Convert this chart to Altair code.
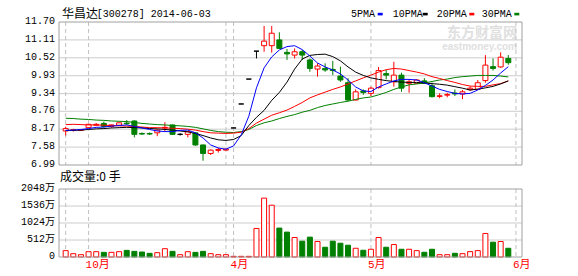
import altair as alt
import pandas as pd

# ---------------- data ----------------
open_ = [8.11, 8.13, 8.13, 8.22, 8.30, 8.36, 8.26, 8.30, 8.37, 8.44,
         8.03, 8.03, 8.05, 8.21, 8.31, 8.00, 8.00, 8.05, 7.65, 7.37,
         7.47, 7.48, 8.21, 9.00, 9.82, 10.74, 10.92, 10.92, 11.11, 10.70,
         10.61, 10.72, 10.45, 10.15, 10.17, 10.14, 9.92, 9.70, 9.13, 9.43,
         9.35, 9.54, 10.00, 9.73, 9.95, 9.68, 9.68, 9.76, 9.60, 9.25,
         9.29, 9.36, 9.33, 9.47, 9.48, 9.77, 10.23, 10.22, 10.50]
close = [8.19, 8.15, 8.15, 8.33, 8.33, 8.26, 8.31, 8.38, 8.35, 8.00,
         8.01, 8.01, 8.14, 8.23, 8.00, 8.00, 8.09, 7.65, 7.37, 7.48,
         7.50, 7.51, 8.21, 9.00, 9.82, 10.74, 11.07, 11.33, 10.83, 10.65,
         10.72, 10.61, 10.17, 10.25, 10.12, 10.10, 9.79, 9.13, 9.40, 9.38,
         9.52, 10.10, 9.95, 9.95, 9.52, 9.73, 9.79, 9.68, 9.24, 9.27,
         9.31, 9.33, 9.40, 9.52, 9.70, 10.28, 10.17, 10.54, 10.36]
high = [8.25, 8.18, 8.17, 8.34, 8.37, 8.42, 8.32, 8.39, 8.47, 8.46,
        8.06, 8.06, 8.16, 8.40, 8.32, 8.04, 8.09, 8.06, 7.66, 7.50,
        7.56, 7.53, 8.21, 9.00, 9.82, 10.74, 11.57, 11.57, 11.36, 10.81,
        10.83, 10.78, 10.50, 10.34, 10.34, 10.42, 10.23, 9.85, 9.48, 9.48,
        9.57, 10.22, 10.12, 10.39, 10.03, 9.81, 9.81, 9.85, 9.70, 9.35,
        9.37, 9.48, 9.46, 9.58, 9.79, 10.61, 10.50, 10.70, 10.61]
low = [7.96, 8.09, 8.11, 8.21, 8.27, 8.22, 8.22, 8.29, 8.31, 7.90,
       7.98, 7.98, 7.94, 8.09, 7.98, 7.96, 7.90, 7.62, 7.13, 7.32,
       7.40, 7.47, 8.21, 9.00, 9.82, 10.50, 10.72, 10.69, 10.83, 10.45,
       10.50, 10.45, 10.06, 9.90, 10.06, 9.95, 9.73, 9.10, 9.12, 9.30,
       9.26, 9.51, 9.81, 9.57, 9.40, 9.37, 9.66, 9.66, 9.22, 9.19,
       9.22, 9.26, 9.16, 9.43, 9.48, 9.70, 10.10, 10.19, 10.29]
volume = [192, 100, 70, 160, 160, 140, 140, 160, 200, 170,
          150, 110, 130, 250, 170, 70, 160, 140, 170, 100,
          70, 70, 20, 20, 20, 860, 1773, 1560, 871, 750,
          587, 476, 598, 466, 294, 476, 415, 355, 263, 203,
          233, 587, 294, 375, 233, 233, 192, 142, 233, 70,
          70, 112, 100, 162, 192, 709, 446, 466, 263]
ma5 = [8.13, 8.14, 8.16, 8.19, 8.23, 8.24, 8.27, 8.29, 8.31, 8.26,
       8.21, 8.16, 8.11, 8.09, 8.09, 8.13, 8.14, 8.05, 7.88, 7.65,
       7.55, 7.51, 7.62, 7.98, 8.60, 9.53, 10.19, 10.55, 10.78, 10.89,
       10.92, 10.79, 10.58, 10.35, 10.22, 10.12, 9.99, 9.79, 9.56, 9.43,
       9.41, 9.56, 9.66, 9.76, 9.81, 9.81, 9.79, 9.70, 9.59, 9.48,
       9.41, 9.35, 9.33, 9.35, 9.46, 9.61, 9.79, 10.02, 10.23]
ma10 = [8.13, 8.13, 8.14, 8.16, 8.18, 8.19, 8.21, 8.22, 8.23, 8.22,
        8.21, 8.19, 8.18, 8.16, 8.14, 8.11, 8.08, 8.03, 7.96, 7.88,
        7.82, 7.80, 7.83, 7.96, 8.29, 8.56, 8.79, 9.12, 9.38, 9.72,
        10.15, 10.48, 10.60, 10.63, 10.64, 10.56, 10.42, 10.22, 10.05, 9.94,
        9.86, 9.81, 9.77, 9.74, 9.72, 9.71, 9.71, 9.69, 9.67, 9.65,
        9.62, 9.57, 9.52, 9.46, 9.49, 9.53, 9.58, 9.66, 9.76]
ma20 = [8.32, 8.33, 8.32, 8.31, 8.31, 8.30, 8.29, 8.28, 8.27, 8.26,
        8.24, 8.22, 8.22, 8.21, 8.20, 8.19, 8.17, 8.14, 8.09, 8.05,
        8.04, 8.03, 8.04, 8.07, 8.19, 8.37, 8.50, 8.63, 8.71, 8.80,
        8.92, 9.05, 9.20, 9.30, 9.39, 9.48, 9.56, 9.66, 9.76, 9.86,
        9.95, 10.05, 10.13, 10.17, 10.15, 10.10, 10.05, 9.99, 9.90, 9.84,
        9.77, 9.71, 9.64, 9.59, 9.58, 9.58, 9.63, 9.67, 9.76]
ma30 = [8.53, 8.52, 8.50, 8.49, 8.47, 8.46, 8.44, 8.43, 8.42, 8.39,
        8.36, 8.34, 8.32, 8.31, 8.29, 8.28, 8.26, 8.23, 8.18, 8.13,
        8.09, 8.07, 8.06, 8.09, 8.16, 8.29, 8.38, 8.44, 8.52, 8.59,
        8.65, 8.73, 8.79, 8.88, 8.95, 9.00, 9.05, 9.09, 9.15, 9.20,
        9.23, 9.30, 9.38, 9.48, 9.56, 9.63, 9.66, 9.69, 9.74, 9.79,
        9.82, 9.87, 9.90, 9.92, 9.94, 9.94, 9.94, 9.92, 9.89]

price_ticks = [6.99, 7.58, 8.17, 8.76, 9.34, 9.93, 10.52, 11.11, 11.70]
price_labels = ["6.99", "7.58", "8.17", "8.76", "9.34", "9.93", "10.52", "11.11", "11.70"]
vol_ticks = [0, 512, 1024, 1536, 2048]
vol_labels = ["0", "512万", "1024万", "1536万", "2048万"]
month_idx = [3, 22, 40, 59]
month_labels = ["10月", "4月", "5月", "6月"]
divider_idx = [0, 3, 21, 22, 40, 59]
legend_names = ["5PMA", "10PMA", "20PMA", "30PMA"]
legend_colors = ["#0000ff", "#000000", "#ff0000", "#008000"]

# ---------------- tables ----------------
n = len(open_)
idx = list(range(n))
dirs = ["up" if c > o else ("down" if c < o else "flat") for o, c in zip(open_, close)]
vdirs = ["down" if c < o else "up" for o, c in zip(open_, close)]
candles = pd.DataFrame({"i": idx, "o": open_, "c": close, "h": high, "l": low,
                        "v": volume, "z": [0] * n, "d": dirs, "vd": vdirs})
mas = pd.DataFrame({"i": idx, "ma5": ma5, "ma10": ma10, "ma20": ma20, "ma30": ma30})
pt = pd.DataFrame({"p": price_ticks, "t": price_labels})
vt = pd.DataFrame({"v": vol_ticks, "t": vol_labels})
div = pd.DataFrame({"i": divider_idx, "top": [price_ticks[-1]] * len(divider_idx),
                    "bot": [price_ticks[0]] * len(divider_idx),
                    "vtop": [vol_ticks[-1]] * len(divider_idx),
                    "vbot": [vol_ticks[0]] * len(divider_idx)})
months = pd.DataFrame({"i": month_idx, "t": month_labels})
frame = pd.DataFrame({"top": [price_ticks[-1]], "bot": [price_ticks[0]],
                      "vtop": [vol_ticks[-1]], "vbot": [vol_ticks[0]]})

W, H = 463, 235
MONO = "Liberation Mono, Noto Sans CJK SC"
CJK = "Noto Sans CJK SC"
GRID = "#cccccc"
BORDER = "#a0a0a0"

xs = alt.Scale(domain=[-0.22, 59.14], nice=False, zero=False)
ps = alt.Scale(domain=[price_ticks[0], price_ticks[-1]], range=[143, 0], nice=False, zero=False)
vs = alt.Scale(domain=[vol_ticks[0], vol_ticks[-1]], range=[H, 167], nice=False, zero=False)
stroke_scale = alt.Scale(domain=["up", "down", "flat"], range=["#ff0000", "#008000", "#000000"])
fill_scale = alt.Scale(domain=["up", "down", "flat"], range=["#ffffff", "#008000", "#000000"])
X = alt.X("i:Q", scale=xs, axis=None)


def txt(s, x, y, **kw):
    return alt.Chart(pd.DataFrame({"t": [s]})).mark_text(**kw).encode(
        x=alt.value(x), y=alt.value(y), text="t:N")


layers = []
# watermark
layers.append(txt("东方财富网", 458, 11, align="right", baseline="middle", font=CJK,
                  fontSize=14, fontWeight="bold", color="#e0e0e0"))
layers.append(txt("eastmoney.com", 458, 24.5, align="right", baseline="middle", font="Liberation Sans",
                  fontSize=10, fontWeight="bold", color="#e0e0e0"))
# grid lines
layers.append(alt.Chart(pt[(pt.p > price_ticks[0]) & (pt.p < price_ticks[-1])]).mark_rule(
    color=GRID, strokeWidth=1).encode(y=alt.Y("p:Q", scale=ps, axis=None)))
layers.append(alt.Chart(vt[(vt.v > vol_ticks[0]) & (vt.v < vol_ticks[-1])]).mark_rule(
    color=GRID, strokeWidth=1).encode(y=alt.Y("v:Q", scale=vs, axis=None)))
# dashed month dividers
layers.append(alt.Chart(div).mark_rule(color="#c0c0c0", strokeDash=[4, 3], strokeWidth=1).encode(
    x=X, y=alt.Y("top:Q", scale=ps, axis=None), y2="bot:Q"))
layers.append(alt.Chart(div).mark_rule(color="#c0c0c0", strokeDash=[4, 3], strokeWidth=1).encode(
    x=X, y=alt.Y("vtop:Q", scale=vs, axis=None), y2="vbot:Q"))
# candles
layers.append(alt.Chart(candles).mark_rule(strokeWidth=1).encode(
    x=X, y=alt.Y("l:Q", scale=ps, axis=None), y2="h:Q",
    stroke=alt.Stroke("d:N", scale=stroke_scale, legend=None)))
layers.append(alt.Chart(candles).mark_bar(size=5, strokeWidth=1).encode(
    x=X, y=alt.Y("o:Q", scale=ps, axis=None), y2="c:Q",
    fill=alt.Fill("d:N", scale=fill_scale, legend=None),
    stroke=alt.Stroke("d:N", scale=stroke_scale, legend=None)))
# moving averages
for col, colr in zip(["ma30", "ma20", "ma10", "ma5"], ["#008000", "#ff0000", "#000000", "#0000ff"]):
    layers.append(alt.Chart(mas).mark_line(color=colr, strokeWidth=1).encode(
        x=X, y=alt.Y(col + ":Q", scale=ps, axis=None)))
# volume
layers.append(alt.Chart(candles).mark_bar(size=5, strokeWidth=1).encode(
    x=X, y=alt.Y("v:Q", scale=vs, axis=None), y2="z:Q",
    fill=alt.Fill("vd:N", scale=fill_scale, legend=None),
    stroke=alt.Stroke("vd:N", scale=stroke_scale, legend=None)))
# panel frames
layers.append(alt.Chart(frame).mark_rect(fillOpacity=0, stroke=BORDER, strokeWidth=1).encode(
    x=alt.value(0), x2=alt.value(W), y=alt.Y("top:Q", scale=ps, axis=None), y2="bot:Q"))
layers.append(alt.Chart(frame).mark_rect(fillOpacity=0, stroke=BORDER, strokeWidth=1).encode(
    x=alt.value(0), x2=alt.value(W), y=alt.Y("vtop:Q", scale=vs, axis=None), y2="vbot:Q"))
# axis labels
layers.append(alt.Chart(pt).mark_text(align="right", baseline="middle", font=MONO, fontSize=10,
                                      color="#000000", dy=-1).encode(
    x=alt.value(-4), y=alt.Y("p:Q", scale=ps, axis=None), text="t:N"))
layers.append(alt.Chart(vt).mark_text(align="right", baseline="middle", font=MONO, fontSize=10,
                                      color="#000000", dy=-1).encode(
    x=alt.value(-4), y=alt.Y("v:Q", scale=vs, axis=None), text="t:N"))
layers.append(alt.Chart(months).mark_text(align="left", baseline="middle", font=MONO, fontSize=11,
                                          color="#ff0000", dx=-3).encode(
    x=X, y=alt.value(243), text="t:N"))
# titles & legend
layers.append(txt("华昌达", 3, -8, align="left", baseline="middle", font=CJK, fontSize=12, color="#000000"))
layers.append(txt("[300278] 2014-06-03", 37.7, -8, align="left", baseline="middle", font=MONO,
                  fontSize=10, color="#000000"))
layers.append(txt("成交量:0 手", 1, 155.3, align="left", baseline="middle", font=CJK, fontSize=12,
                  color="#000000"))
leg_x = [292, 333.7, 377.7, 422.7]
dash_x = [318.7, 363.7, 410.3, 455.3]
for name, colr, lx, dx in zip(legend_names, legend_colors, leg_x, dash_x):
    layers.append(txt(name, lx, -7.7, align="left", baseline="middle", font=MONO, fontSize=10,
                      color="#000000"))
    layers.append(alt.Chart(pd.DataFrame({"a": [0]})).mark_rect(color=colr).encode(
        x=alt.value(dx), x2=alt.value(dx + 5), y=alt.value(-9.2), y2=alt.value(-6.6)))

chart = alt.layer(*layers).resolve_scale(y="independent").properties(
    width=W, height=H,
    padding={"left": 59, "top": 22, "right": 56, "bottom": 19},
    autosize=alt.AutoSizeParams(type="none"),
    background="white",
).configure_view(stroke=None)

chart.save("out.html", embed_options={"renderer": "svg", "actions": False})
